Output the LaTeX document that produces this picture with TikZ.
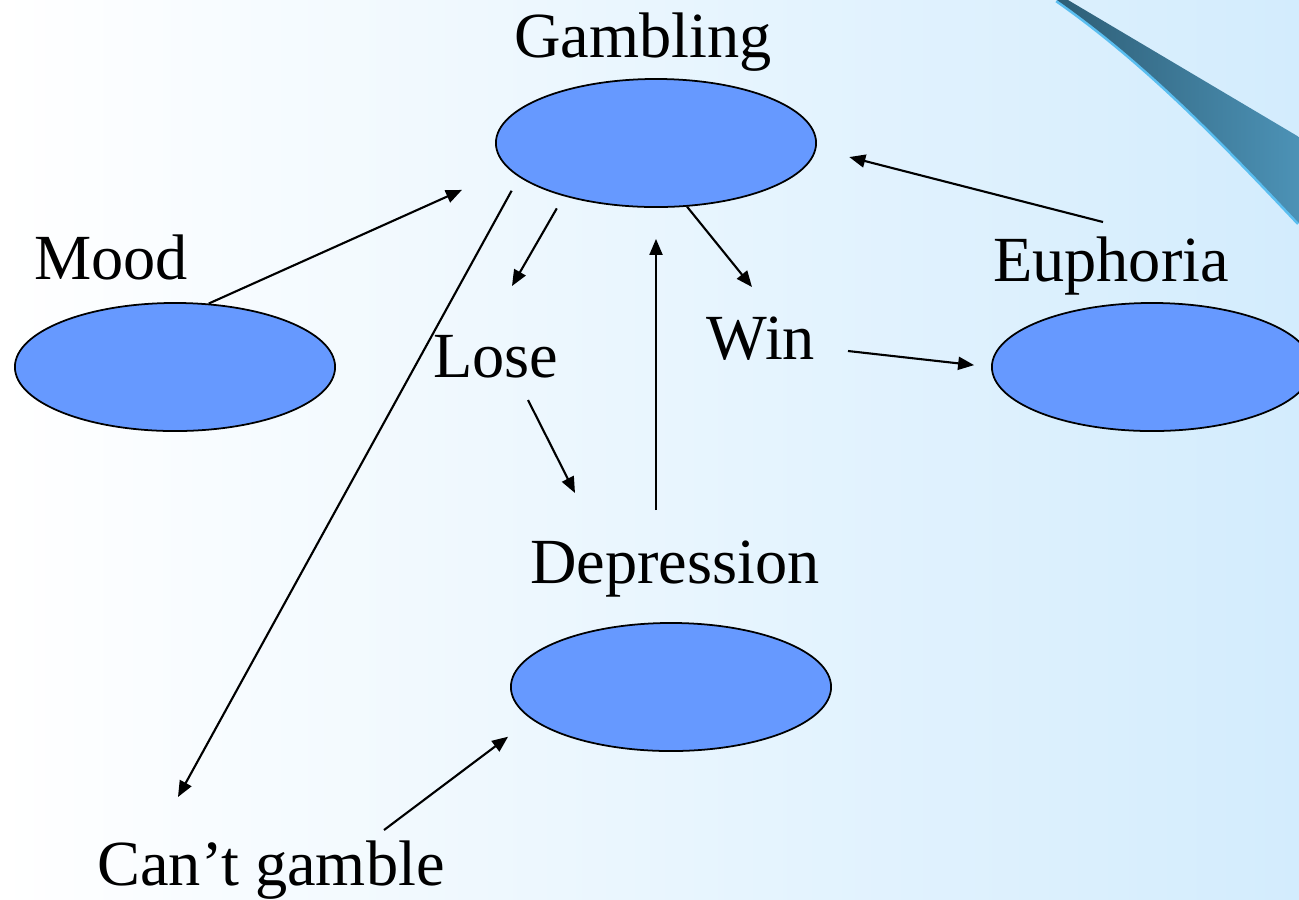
\documentclass[tikz,border=0pt]{standalone}
\usepackage{fontspec}
\setmainfont{Liberation Serif}
\usetikzlibrary{shapes.geometric,arrows.meta}
\definecolor{ovalblue}{RGB}{102,153,255}
\definecolor{skyright}{RGB}{211,236,253}
\definecolor{wedgedark}{RGB}{46,94,118}
\definecolor{wedgelight}{RGB}{76,146,182}
\definecolor{wedgeedge}{RGB}{90,190,240}

\begin{document}
\begin{tikzpicture}[x=0.01cm,y=-0.01cm]
  \tikzstyle{oval}=[draw,ellipse,fill=ovalblue,line width=0.5pt,
                    minimum width=3.2cm,minimum height=1.28cm,inner sep=0pt]
  \tikzstyle{word}=[anchor=base,inner sep=0pt,font=\fontsize{18.3}{22}\selectfont]
  \tikzstyle{arr}=[-{Triangle[length=0.16cm,width=0.13cm]},line width=0.6pt]
  \useasboundingbox (0,0) rectangle (1299,899);
  \clip (0,0) rectangle (1299,899);
  % slide background
  \shade[left color=white,right color=skyright] (0,0) rectangle (1299,899);
  \draw[wedgeedge,line width=1.5pt] (1057,0) .. controls (1150,65) and (1230,150) .. (1299,223);
  \shade[left color=wedgedark,right color=wedgelight] (1057,0) -- (1068,0) -- (1299,137)
      -- (1299,223) .. controls (1230,150) and (1150,65) .. (1057,0) -- cycle;

  \node[oval] (gambling) at (656,143) {};
  \node[oval] (mood) at (175,367) {};
  \node[oval] (euphoria) at (1152,367) {};
  \node[oval] (depression) at (671,687) {};

  \node[word] (gamblingtxt) at (643,57) {Gambling};
  \node[word] (moodtxt) at (111,279) {Mood};
  \node[word] (euphoriatxt) at (1111,281) {Euphoria};
  \node[word] (losetxt) at (496,377) {Lose};
  \node[word] (wintxt) at (761,359) {Win};
  \node[word] (depressiontxt) at (675,583) {Depression};
  \node[word] (canttxt) at (271,885) {Can’t gamble};

  % free arrow ends beside the words
  \coordinate (cantin) at (178,797);
  \coordinate (cantout) at (384,830);
  \coordinate (losein) at (512,286);
  \coordinate (loseout) at (528,400);
  \coordinate (depin) at (575,493);
  \coordinate (depout) at (656,510);
  \coordinate (winin) at (752,287);
  \coordinate (winout) at (848,351);
  \coordinate (euphout) at (1103,222);

  \draw[arr,shorten >=0.51cm] (mood.62) -- (gambling.190);
  \draw[arr,shorten <=0.155cm] (gambling.194) -- (cantin);
  \draw[arr,shorten <=0.14cm] (gambling.210) -- (losein);
  \draw[arr,shorten >=0.31cm] (depout) -- (gambling.south);
  \draw[arr] (gambling.296) -- (winin);
  \draw[arr] (loseout) -- (depin);
  \draw[arr,shorten >=0.17cm] (winout) -- (euphoria.west);
  \draw[arr,shorten >=0.34cm] (euphout) -- (gambling.358);
  \draw[arr,shorten >=0.29cm] (cantout) -- (depression.193);
\end{tikzpicture}
\end{document}
